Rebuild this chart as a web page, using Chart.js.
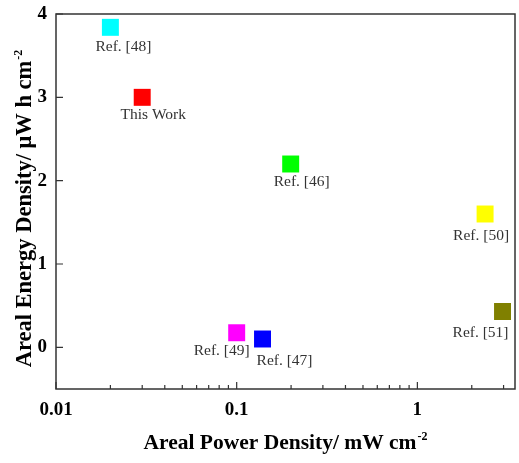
<!DOCTYPE html>
<html>
<head>
<meta charset="utf-8">
<script src="https://cdn.jsdelivr.net/npm/chart.js@4/dist/chart.umd.min.js"></script>
<style>
  body { margin: 0; background: #fff; }
</style>
</head>
<body>
<canvas id="myChart" width="519" height="463"></canvas>
<script>
// values
const pointNames = ['Ref. [48]', 'This Work', 'Ref. [46]', 'Ref. [50]', 'Ref. [49]', 'Ref. [47]', 'Ref. [51]'];
const powerDensity = [0.020, 0.030, 0.199, 2.37, 0.100, 0.139, 2.96];   // mW cm-2
const energyDensity = [3.84, 3.00, 2.20, 1.60, 0.175, 0.10, 0.43];    // uW h cm-2
const yTicks = [0, 1, 2, 3, 4];
const xTicks = [0.01, 0.1, 1];

const pointColors = ['#00ffff', '#ff0000', '#00ff00', '#ffff00', '#ff00ff', '#0000ff', '#808000'];
// where each name sits relative to its square
const labelOffsets = [[13, 20], [11, 18], [11, 18], [-4, 22], [-15, 18], [22, 22], [-22, 21]];

const serif = '"Liberation Serif", "Times New Roman", serif';

const decorate = {
  id: 'decorate',
  afterDatasetsDraw(chart) {
    const ctx = chart.ctx;
    const meta = chart.getDatasetMeta(0);
    ctx.save();
    ctx.font = '15.5px ' + serif;
    ctx.fillStyle = '#333';
    ctx.textAlign = 'center';
    ctx.textBaseline = 'middle';
    meta.data.forEach((pt, i) => {
      ctx.fillText(pointNames[i], pt.x + labelOffsets[i][0], pt.y + labelOffsets[i][1]);
    });
    ctx.restore();
  },
  afterDraw(chart) {
    const ctx = chart.ctx;
    const a = chart.chartArea;
    const xs = chart.scales.x, ys = chart.scales.y;
    ctx.save();
    ctx.strokeStyle = '#333';
    ctx.lineWidth = 1.5;
    ctx.strokeRect(a.left, a.top, a.right - a.left, a.bottom - a.top);

    ctx.lineWidth = 1.2;
    ctx.beginPath();
    xs.ticks.forEach(t => {
      const v = t.value;
      const m = v / Math.pow(10, Math.floor(Math.log10(v) + 1e-9));
      if (Math.abs(m - Math.round(m)) > 1e-6) return;
      const px = xs.getPixelForValue(v);
      if (px < a.left - 0.5 || px > a.right + 0.5) return;
      const len = xTicks.some(d => Math.abs(d - v) < 1e-9) ? 7 : 4;
      ctx.moveTo(px, a.bottom);
      ctx.lineTo(px, a.bottom - len);
    });
    yTicks.forEach(v => {
      const py = ys.getPixelForValue(v);
      ctx.moveTo(a.left, py);
      ctx.lineTo(a.left + 7, py);
    });
    ctx.stroke();

    // axis titles
    ctx.fillStyle = '#000';
    ctx.textBaseline = 'alphabetic';
    drawTitle(ctx, 'Areal Power Density/ mW cm', 285, 449, 0, 21.5);
    drawTitle(ctx, 'Areal Energy Density/ \u03bcW h cm', 31, 209, -Math.PI / 2, 22.5);
    ctx.restore();
  }
};

function drawTitle(ctx, text, cx, cy, rot, size) {
  ctx.save();
  ctx.translate(cx, cy);
  ctx.rotate(rot);
  const main = 'bold ' + size + 'px ' + serif;
  const sup = 'bold 12px ' + serif;
  ctx.font = main;
  const w1 = ctx.measureText(text).width;
  ctx.font = sup;
  const w2 = ctx.measureText('-2').width;
  const x0 = -(w1 + w2) / 2;
  ctx.font = main;
  ctx.textAlign = 'left';
  ctx.fillText(text, x0, 0);
  ctx.font = sup;
  ctx.fillText('-2', x0 + w1 + 1, -9);
  ctx.restore();
}

function noOverhang(s) {
  s.paddingTop = 0;
  s.paddingBottom = 0;
  s.paddingLeft = 0;
  s.paddingRight = 0;
}

new Chart(document.getElementById('myChart'), {
  type: 'scatter',
  data: {
    datasets: [{
      data: powerDensity.map((x, i) => ({ x: x, y: energyDensity[i] })),
      pointStyle: 'rect',
      pointRadius: 12,
      pointHoverRadius: 12,
      pointBackgroundColor: pointColors,
      pointBorderWidth: 0,
      borderWidth: 0
    }]
  },
  options: {
    responsive: false,
    animation: false,
    events: [],
    layout: { autoPadding: false, padding: { top: 14, right: 4, left: 0, bottom: 0 } },
    plugins: { legend: { display: false }, tooltip: { enabled: false } },
    scales: {
      x: {
        type: 'logarithmic',
        min: 0.01,
        max: 3.47,
        grid: { display: false, drawTicks: false },
        border: { display: false },
        afterFit: s => { s.height = 74; noOverhang(s); },
        ticks: {
          autoSkip: false,
          maxRotation: 0,
          padding: 10,
          color: '#000',
          font: { family: serif, size: 19, weight: 'bold' },
          callback: v => xTicks.some(d => Math.abs(d - v) < 1e-9) ? String(v) : ''
        }
      },
      y: {
        min: -0.5,
        max: 4,
        grid: { display: false, drawTicks: false },
        border: { display: false },
        afterFit: s => { s.width = 56; noOverhang(s); },
        ticks: {
          stepSize: 1,
          padding: 9,
          color: '#000',
          font: { family: serif, size: 19, weight: 'bold' },
          callback: v => Number.isInteger(v) ? String(v) : ''
        }
      }
    }
  },
  plugins: [decorate]
});
</script>
</body>
</html>
